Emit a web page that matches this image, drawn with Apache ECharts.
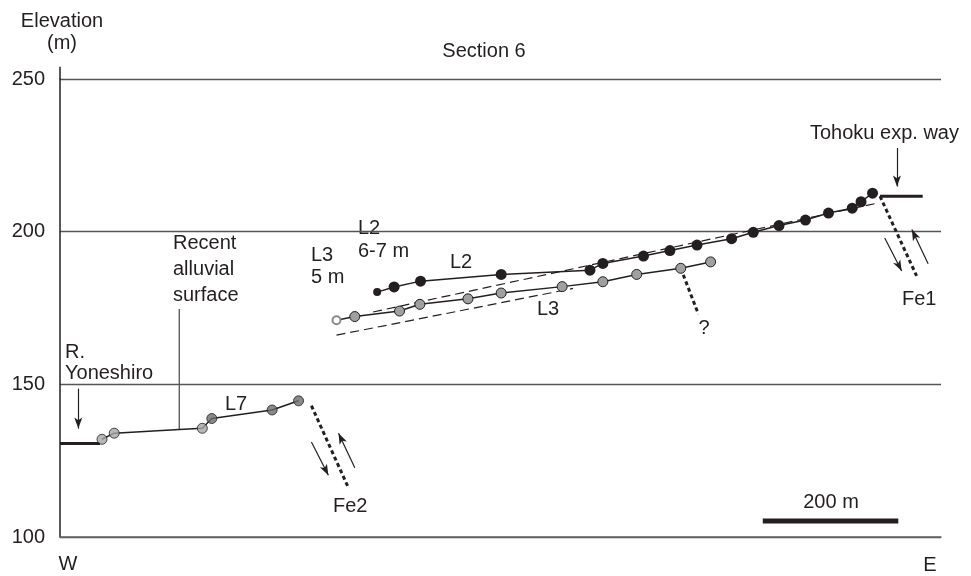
<!DOCTYPE html>
<html>
<head>
<meta charset="utf-8">
<script src="https://cdn.jsdelivr.net/npm/echarts@6/dist/echarts.min.js"></script>
<style>html,body{margin:0;padding:0;background:#fff}#c{width:971px;height:576px}</style>
</head>
<body>
<div id="c"></div>
<script>
// ---- data (distance along section in m from W, elevation in m) ----
const xMax = 1300;
const yTicks = [100, 150, 200, 250];
const riverLine = [[0, 130.6], [59, 130.6]];
const alluvialPts = [[62, 132], [80, 134], [210, 135.6]];
const alluvialVertex = [176, 135.2];
const l7Pts = [[224, 138.8], [313, 141.6], [352, 144.6]];
const l2Pts = [[468, 180.2], [493, 181.9], [532, 183.8], [651, 186.0], [782, 187.4], [801, 189.6], [861, 192.0], [900, 193.8], [940, 195.6], [991, 197.7], [1023, 199.8], [1061, 202.0], [1100, 203.8], [1134, 206.1], [1169, 207.7], [1182, 209.8], [1199, 212.6]];
const l3Pts = [[408, 171.0], [435, 172.2], [501, 174.0], [531, 176.2], [602, 178.0], [651, 179.9], [741, 182.0], [801, 183.6], [851, 186.0], [916, 188.0], [960, 190.1]];
const l2Trend = [[462, 173.7], [1203, 209.2]];
const l3Trend = [[408, 166.1], [757, 181.4]];
const fe2Fault = [[371, 143.0], [425, 116.4]];
const fe1Fault = [[1210, 211.6], [1264, 185.5]];
const l3Fault = [[916, 188.0], [942, 173.0]];
const roadLine = [[1210, 211.6], [1273, 211.6]];
const alluvialPointer = [[176, 174.7], [176, 135.2]];
const scaleBar = [[1037, 105.2], [1237, 105.2]];
const arrows = [
  [[27, 148.6], [27, 135.5]],        // R. Yoneshiro
  [[1235, 227.4], [1235, 214.8]],    // Tohoku exp. way
  [[371, 131.1], [396, 120.2]],      // Fe2 down
  [[435, 122.7], [411, 134.0]],      // Fe2 up
  [[1217, 197.9], [1242, 187.1]],    // Fe1 down
  [[1281, 189.5], [1257, 200.7]]     // Fe1 up
];

const INK = '#231f20';
const FONT = '"Liberation Sans", Arial, Helvetica, sans-serif';

function seg(data, width, type, color, z) {
  return {
    type: 'line', data: data, showSymbol: false, symbol: 'none', clip: false, silent: true,
    lineStyle: { color: color || INK, width: width, type: type || 'solid', cap: 'butt' },
    z: z || 2, animation: false
  };
}

const l2Data = l2Pts.map((p, i) => i === 0 ? { value: p, symbolSize: 8 } : p);
const l3Data = l3Pts.map((p, i) => i === 0 ? { value: p, symbol: 'emptyCircle', symbolSize: 8, itemStyle: { color: '#8a8a8a', borderColor: '#8a8a8a', borderWidth: 2 } } : p);
const profile = [alluvialPts[0], alluvialPts[1], alluvialVertex, alluvialPts[2]].concat(l7Pts);

const chart = echarts.init(document.getElementById('c'), null, { renderer: 'canvas' });

function txt(text, x, y, align) {
  return {
    type: 'text', x: x, y: y, silent: true,
    style: { text: text, font: '20px ' + FONT, fill: INK, align: align || 'left', verticalAlign: 'middle' }
  };
}

chart.setOption({
  animation: false,
  backgroundColor: '#fff',
  grid: { left: 60, right: 30, top: 79, bottom: 39 },
  xAxis: {
    type: 'value', min: 0, max: xMax,
    axisLine: { show: true, onZero: false, lineStyle: { color: '#666', width: 1.5 } },
    axisTick: { show: false }, axisLabel: { show: false }, splitLine: { show: false }
  },
  yAxis: {
    type: 'value', min: yTicks[0], max: yTicks[yTicks.length - 1], interval: 50,
    axisLine: { show: true, lineStyle: { color: INK, width: 1.5 } },
    axisTick: { show: false },
    axisLabel: { margin: 15, fontSize: 20, fontFamily: FONT, color: INK },
    splitLine: { show: true, lineStyle: { color: '#555', width: 1.3 } }
  },
  series: [
    seg([[0, 250], [0, 254]], 1.5),
    seg(riverLine, 3),
    seg(alluvialPointer, 1.3, 'solid', '#555'),
    seg(profile, 1.5),
    seg(l2Trend, 1.2, [9, 5]),
    seg(l3Trend, 1.2, [9, 5]),
    seg(fe2Fault, 3, [4, 3]),
    seg(fe1Fault, 3, [4, 3]),
    seg(l3Fault, 3, [4, 3]),
    seg(roadLine, 3),
    seg(scaleBar, 5),
    {
      type: 'scatter', data: alluvialPts, symbolSize: 10, silent: true, z: 5,
      itemStyle: { color: '#a5a5a5', borderColor: INK, borderWidth: 1 }
    },
    {
      type: 'scatter', data: l7Pts, symbolSize: 10, silent: true, z: 5,
      itemStyle: { color: '#6b6b6b', borderColor: INK, borderWidth: 1 }
    },
    {
      type: 'line', data: l2Data, symbol: 'circle', symbolSize: 11, showAllSymbol: true, clip: false, silent: true, z: 6,
      lineStyle: { color: INK, width: 1.5 },
      itemStyle: { color: INK, borderColor: INK, borderWidth: 0 }
    },
    {
      type: 'line', data: l3Data, symbol: 'circle', symbolSize: 10, showAllSymbol: true, clip: false, silent: true, z: 6,
      lineStyle: { color: INK, width: 1.5 },
      itemStyle: { color: '#a0a0a0', borderColor: INK, borderWidth: 1 }
    },
    {
      type: 'line', data: [], silent: true, z: 4,
      markLine: {
        silent: true, animation: false,
        symbol: ['none', 'arrow'], symbolSize: [6, 11],
        label: { show: false },
        lineStyle: { color: INK, width: 1.2, type: 'solid' },
        emphasis: { disabled: true },
        data: arrows.map(a => [{ coord: a[0] }, { coord: a[1] }])
      }
    }
  ],
  graphic: [
    txt('Elevation', 62, 21, 'center'),
    txt('(m)', 62, 43, 'center'),
    txt('Section 6', 484, 51, 'center'),
    txt('R.', 65, 352),
    txt('Yoneshiro', 65, 373),
    txt('Recent', 173, 243),
    txt('alluvial', 173, 269),
    txt('surface', 173, 295),
    txt('L3', 311, 255),
    txt('5 m', 311, 277),
    txt('L2', 358, 228),
    txt('6-7 m', 358, 251),
    txt('L2', 450, 262),
    txt('L3', 537, 309),
    txt('L7', 225, 404),
    txt('?', 704, 328, 'center'),
    txt('Fe2', 333, 506),
    txt('Fe1', 902, 299),
    txt('Tohoku exp. way', 810, 133),
    txt('200 m', 831, 502, 'center'),
    txt('W', 68, 564, 'center'),
    txt('E', 930, 565, 'center')
  ]
});
</script>
</body>
</html>
